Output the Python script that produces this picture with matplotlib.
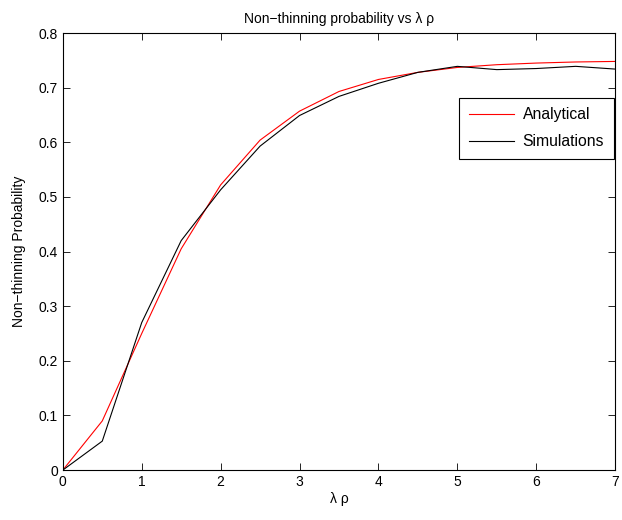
import matplotlib
matplotlib.use("Agg")
from matplotlib import pyplot as plt

plt.rcParams['font.family'] = ['Liberation Sans', 'DejaVu Sans']
plt.rcParams['font.size'] = 10

# ---------------- Data ----------------
lambda_rho = [0, 0.5, 1, 1.5, 2, 2.5, 3, 3.5, 4, 4.5, 5, 5.5, 6, 6.5, 7]
analytical = [0, 0.090, 0.250, 0.405, 0.522, 0.604, 0.657, 0.693, 0.715, 0.728,
              0.737, 0.742, 0.745, 0.747, 0.748]
simulations = [0, 0.053, 0.270, 0.420, 0.513, 0.593, 0.649, 0.684, 0.708, 0.728,
               0.739, 0.733, 0.735, 0.739, 0.734]

x_ticks = [0, 1, 2, 3, 4, 5, 6, 7]
y_ticks = [0, 0.1, 0.2, 0.3, 0.4, 0.5, 0.6, 0.7, 0.8]
y_tick_labels = ["0", "0.1", "0.2", "0.3", "0.4", "0.5", "0.6", "0.7", "0.8"]

# ---------------- Plot ----------------
fig = plt.figure(figsize=(6.22, 5.2), dpi=100)
ax = fig.add_axes([0.101, 0.096, 0.888, 0.8405])

ax.plot(lambda_rho, analytical, color="red", linewidth=0.8, label="Analytical")
ax.plot(lambda_rho, simulations, color="black", linewidth=0.8, label="Simulations")

ax.set_xlim(0, 7)
ax.set_ylim(0, 0.8)
ax.set_xticks(x_ticks)
ax.set_yticks(y_ticks)
ax.set_yticklabels(y_tick_labels)
ax.tick_params(direction="in", top=True, right=True, length=5, width=0.6)
for s in ax.spines.values():
    s.set_linewidth(0.8)

ax.set_title("Non\u2212thinning probability vs \u03bb \u03c1", fontsize=10, pad=7)
ax.set_xlabel("\u03bb \u03c1", labelpad=2)
ax.set_ylabel("Non\u2212thinning Probability", labelpad=9)

leg = ax.legend(loc="upper right", bbox_to_anchor=(1.0, 0.855), fancybox=False,
                edgecolor="black", framealpha=1, handlelength=2.9, borderpad=0.6,
                labelspacing=0.75, handletextpad=0.55, borderaxespad=0.1,
                fontsize=11.3)
leg.get_frame().set_linewidth(0.8)

plt.savefig("out.png", dpi=100)
